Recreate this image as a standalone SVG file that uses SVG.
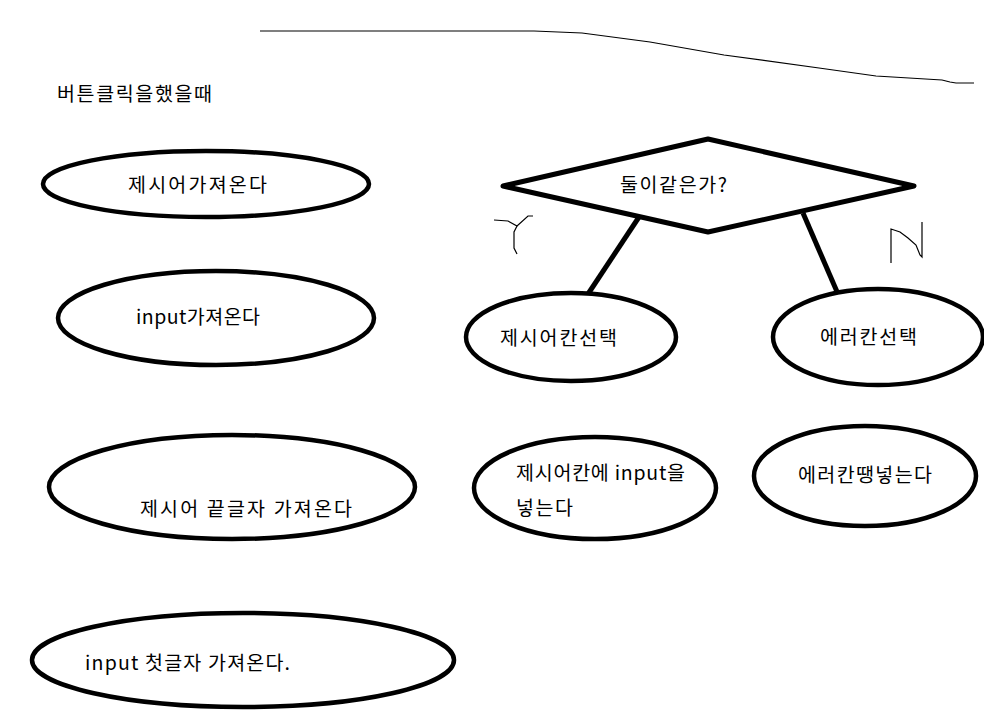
<svg xmlns="http://www.w3.org/2000/svg" width="984" height="721" viewBox="0 0 984 721">
<style>
.shape{fill:none;stroke:#000;stroke-width:4.5}
.conn{fill:none;stroke:#000;stroke-width:5}
.thin{fill:none;stroke:#000;stroke-width:1.2}
.t{font-family:"Malgun Gothic","Noto Sans CJK KR","Noto Sans",sans-serif;font-size:19.5px;fill:#000;dominant-baseline:central}
</style>
<rect width="984" height="721" fill="#fff"/>
<polyline class="thin" points="260,31 534,31 582,33 650,42 724,55 819,68 876,76 942,80 950,82 956,83 974,83"/>
<text class="t" x="57" y="92" textLength="155">버튼클릭을했을때</text>
<g id="node-get-word">
<ellipse class="shape" cx="206" cy="184" rx="163" ry="33"/>
<text class="t" x="128" y="183" textLength="139">제시어가져온다</text>
</g>
<g id="node-get-input">
<ellipse class="shape" cx="216" cy="318" rx="158" ry="47"/>
<text class="t" x="136" y="315" textLength="124">input가져온다</text>
</g>
<g id="node-get-last">
<ellipse class="shape" cx="232" cy="487" rx="183" ry="52"/>
<text class="t" x="140" y="507" textLength="212">제시어 끝글자 가져온다</text>
</g>
<g id="node-get-first">
<ellipse class="shape" cx="243" cy="660" rx="211" ry="47"/>
<text class="t" x="85" y="661" textLength="205">input 첫글자 가져온다.</text>
</g>
<g id="node-decision">
<polygon class="conn" points="503,186 708,139 914,186 708,232" stroke-linejoin="round"/>
<text class="t" x="620" y="183" textLength="107">둘이같은가?</text>
</g>
<g id="node-select-word">
<ellipse class="shape" cx="571" cy="337" rx="105" ry="44"/>
<text class="t" x="500" y="336" textLength="117">제시어칸선택</text>
</g>
<g id="node-select-error">
<ellipse class="shape" cx="878" cy="337" rx="105" ry="48"/>
<text class="t" x="820" y="335" textLength="97">에러칸선택</text>
</g>
<g id="node-put-input">
<ellipse class="shape" cx="595" cy="488" rx="121" ry="51"/>
<text class="t" x="516" y="471" textLength="169">제시어칸에 input을</text>
<text class="t" x="516" y="506" textLength="57">넣는다</text>
</g>
<g id="node-put-ddaeng">
<ellipse class="shape" cx="865" cy="476" rx="111" ry="50"/>
<text class="t" x="798" y="473" textLength="134">에러칸땡넣는다</text>
</g>
<g id="connectors">
<line class="conn" x1="639" y1="217" x2="588" y2="294"/>
<line class="conn" x1="803" y1="213" x2="838" y2="294"/>
</g>
<g id="labels">
<polyline class="thin" points="494,220 508,221 517,226 528,216 533,216"/>
<polyline class="thin" points="517,226 514,232 514,248 517,254"/>
<polyline class="thin" points="891,263 891,229 900,232 908,238 916,245 920,255 922,257 922,222"/>
</g>
</svg>
